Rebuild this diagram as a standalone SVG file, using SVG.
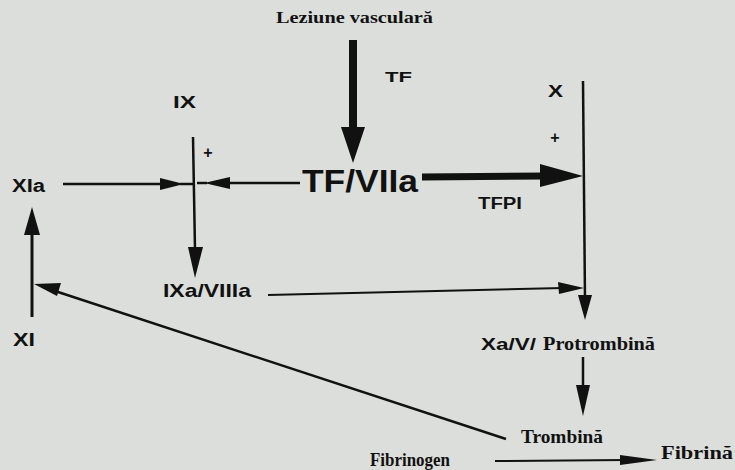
<svg xmlns="http://www.w3.org/2000/svg" width="735" height="470" viewBox="0 0 735 470">
<style>
.s{font-family:"Liberation Sans",Arial,sans-serif;font-weight:bold;fill:#111}
.r{font-family:"Liberation Serif","Times New Roman",serif;font-weight:bold;fill:#111}
.ln{stroke:#111;fill:none}
.hd{fill:#111}
</style>
<rect width="735" height="470" fill="#dcdedb"/>
<g id="leziune"><text class="r" x="276" y="23" font-size="16" textLength="157" lengthAdjust="spacingAndGlyphs">Leziune vasculară</text></g>
<g id="tf"><text class="s" x="385" y="82" font-size="14" textLength="27" lengthAdjust="spacingAndGlyphs">TF</text></g>
<g id="ix"><text class="s" x="173" y="108" font-size="16" textLength="23" lengthAdjust="spacingAndGlyphs">IX</text></g>
<g id="x"><text class="s" x="548" y="97" font-size="16" textLength="15" lengthAdjust="spacingAndGlyphs">X</text></g>
<g id="plus1"><text class="s" x="208" y="158" font-size="16" text-anchor="middle">+</text></g>
<g id="plus2"><text class="s" x="555" y="143" font-size="16" text-anchor="middle">+</text></g>
<g id="xia"><text class="s" x="12" y="192" font-size="18" textLength="33" lengthAdjust="spacingAndGlyphs">XIa</text></g>
<g id="tfviia"><text class="s" x="302" y="192" font-size="32" textLength="116" lengthAdjust="spacingAndGlyphs">TF/VIIa</text></g>
<g id="tfpi"><text class="s" x="478" y="209" font-size="16" textLength="44" lengthAdjust="spacingAndGlyphs">TFPI</text></g>
<g id="ixaviiia"><text class="s" x="163" y="297" font-size="19" textLength="88" lengthAdjust="spacingAndGlyphs">IXa/VIIIa</text></g>
<g id="xi"><text class="s" x="13" y="346" font-size="18" textLength="22" lengthAdjust="spacingAndGlyphs">XI</text></g>
<g id="xav"><text class="s" x="481" y="350" font-size="17" textLength="55" lengthAdjust="spacingAndGlyphs">Xa/V/</text><text class="r" x="543" y="350" font-size="19" textLength="112" lengthAdjust="spacingAndGlyphs">Protrombină</text></g>
<g id="trombina"><text class="r" x="521" y="443" font-size="19" textLength="82" lengthAdjust="spacingAndGlyphs">Trombină</text></g>
<g id="fibrinogen"><text class="r" x="370" y="466" font-size="18" textLength="80" lengthAdjust="spacingAndGlyphs">Fibrinogen</text></g>
<g id="fibrina"><text class="r" x="661" y="459" font-size="18" textLength="72" lengthAdjust="spacingAndGlyphs">Fibrină</text></g>
<g id="connectors">
<line class="ln" x1="353" y1="40" x2="353" y2="130" stroke-width="8"/>
<polygon class="hd" points="341,127 365,127 353,163"/>
<line class="ln" x1="193" y1="137" x2="195" y2="250" stroke-width="2.5"/>
<polygon class="hd" points="188,247 203,247 195,278"/>
<line class="ln" x1="63" y1="184" x2="165" y2="184" stroke-width="2.5"/>
<line class="ln" x1="180" y1="184" x2="193" y2="184" stroke-width="2.5"/>
<polygon class="hd" points="160,178 160,190 184,184"/>
<line class="ln" x1="197" y1="183" x2="207" y2="183" stroke-width="2.5"/>
<line class="ln" x1="225" y1="183" x2="300" y2="183" stroke-width="2.5"/>
<polygon class="hd" points="230,177 230,189 204,183"/>
<line class="ln" x1="422" y1="177" x2="545" y2="176" stroke-width="7"/>
<polygon class="hd" points="540,164 540,187 583,176"/>
<line class="ln" x1="583" y1="81" x2="585" y2="300" stroke-width="2.5"/>
<polygon class="hd" points="578,295 592,295 585,320"/>
<line class="ln" x1="268" y1="295" x2="563" y2="288" stroke-width="2"/>
<polygon class="hd" points="558,282 559,294 584,288"/>
<line class="ln" x1="32" y1="317" x2="32" y2="232" stroke-width="3"/>
<polygon class="hd" points="24,235 40,235 32,207"/>
<line class="ln" x1="506" y1="439" x2="55" y2="291" stroke-width="2.5"/>
<polygon class="hd" points="61,283 57,296 34,284"/>
<line class="ln" x1="583" y1="357" x2="583" y2="390" stroke-width="2.5"/>
<polygon class="hd" points="576,385 590,385 583,416"/>
<line class="ln" x1="495" y1="461" x2="625" y2="460" stroke-width="2"/>
<polygon class="hd" points="620,455 620,465 657,460"/>
</g>
</svg>
